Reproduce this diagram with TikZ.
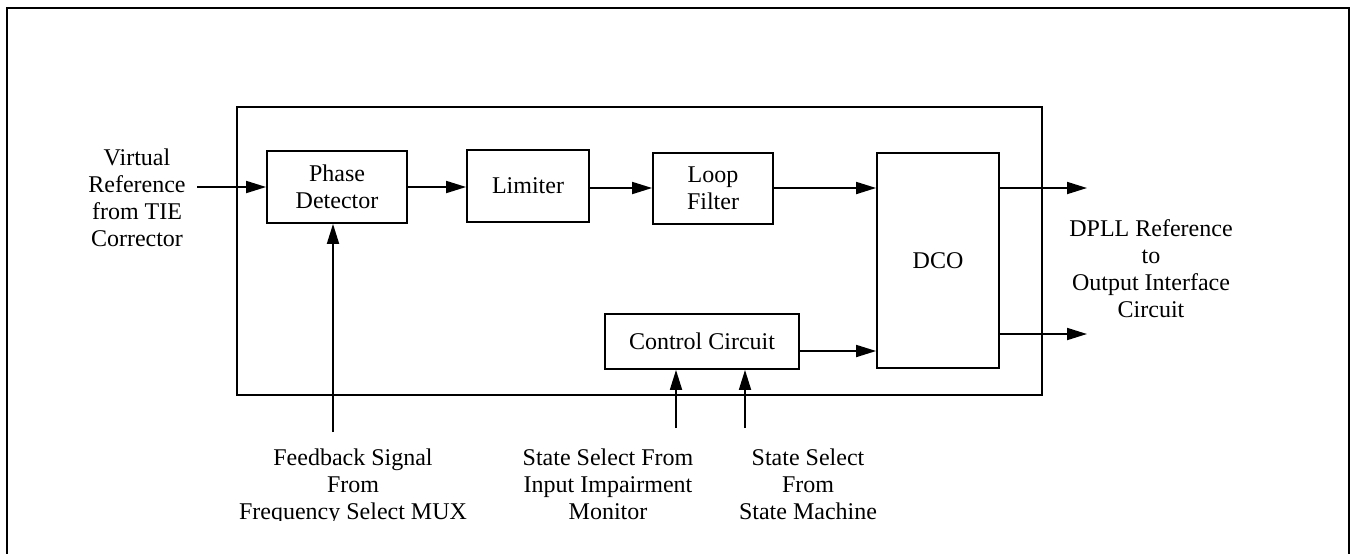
\documentclass[tikz,border=0pt]{standalone}
\usepackage{fontspec}
\setmainfont{Liberation Serif}
\usetikzlibrary{arrows.meta}
\begin{document}
\begin{tikzpicture}[x=0.5pt,y=-0.5pt,
  line width=0.9pt,
  every node/.style={font=\fontsize{12pt}{13.4pt}\selectfont},
  blk/.style={draw, line width=0.9pt, inner sep=0pt, align=center},
  lbl/.style={align=center, inner sep=0pt, anchor=north},
  arr/.style={-{Triangle[length=10pt,width=6pt]}}]
\clip (0,0) rectangle (1353,553);
% outer frame
\draw[line width=1.1pt] (7,600) -- (7,8) -- (1349,8) -- (1349,600);
% inner box
\node[blk, minimum width=402.5pt, minimum height=144pt] (dpll) at (639.5,251) {};
% blocks
\node[blk, minimum width=70pt, minimum height=36pt] (pd) at (337,187) {Phase\\Detector};
\node[blk, minimum width=61pt, minimum height=36pt] (lim) at (528,186) {Limiter};
\node[blk, minimum width=60pt, minimum height=35.5pt] (lf) at (713,188.5) {Loop\\Filter};
\node[blk, minimum width=61pt, minimum height=107.5pt] (dco) at (938,260.5) {DCO};
\node[blk, minimum width=97pt, minimum height=27.5pt] (cc) at (702,341.5) {Control Circuit};
% labels (north = first baseline - strut height)
\node[lbl] (vlab) at (137,146) {\strut Virtual\\\strut Reference\\\strut from TIE\\\strut Corrector};
\node[lbl] (olab) at (1151,217) {\strut DPLL Reference\\\strut to\\\strut Output Interface\\\strut Circuit};
\begin{scope}
\clip (0,0) rectangle (1353,520);
\node[lbl] (fblab) at (353,446) {\strut Feedback Signal\\\strut From\\\strut Frequency Select MUX};
\node[lbl] (s1lab) at (608,446) {\strut State Select From\\\strut Input Impairment\\\strut Monitor};
\node[lbl] (s2lab) at (808,446) {\strut State Select\\\strut From\\\strut State Machine};
\end{scope}
% free ends
\coordinate (vin) at (197,187);
\coordinate (o1) at (1087,188);
\coordinate (o2) at (1087,334);
\coordinate (fb) at (333,432);
\coordinate (s1) at (676,428);
\coordinate (s2) at (745,428);
% connectors
\draw[arr] (vin) -- (vin -| pd.west);
\draw[arr] (pd.east |- 0,187) -- (lim.west |- 0,187);
\draw[arr] (lim.east |- 0,188) -- (lf.west |- 0,188);
\draw[arr] (lf.east |- 0,188) -- (dco.west |- 0,188);
\draw[arr] (dco.east |- o1) -- (o1);
\draw[arr] (dco.east |- o2) -- (o2);
\draw[arr] (cc.east |- 0,351) -- (dco.west |- 0,351);
\draw[arr] (fb) -- (fb |- pd.south);
\draw[arr] (s1) -- (s1 |- cc.south);
\draw[arr] (s2) -- (s2 |- cc.south);
\end{tikzpicture}
\end{document}
